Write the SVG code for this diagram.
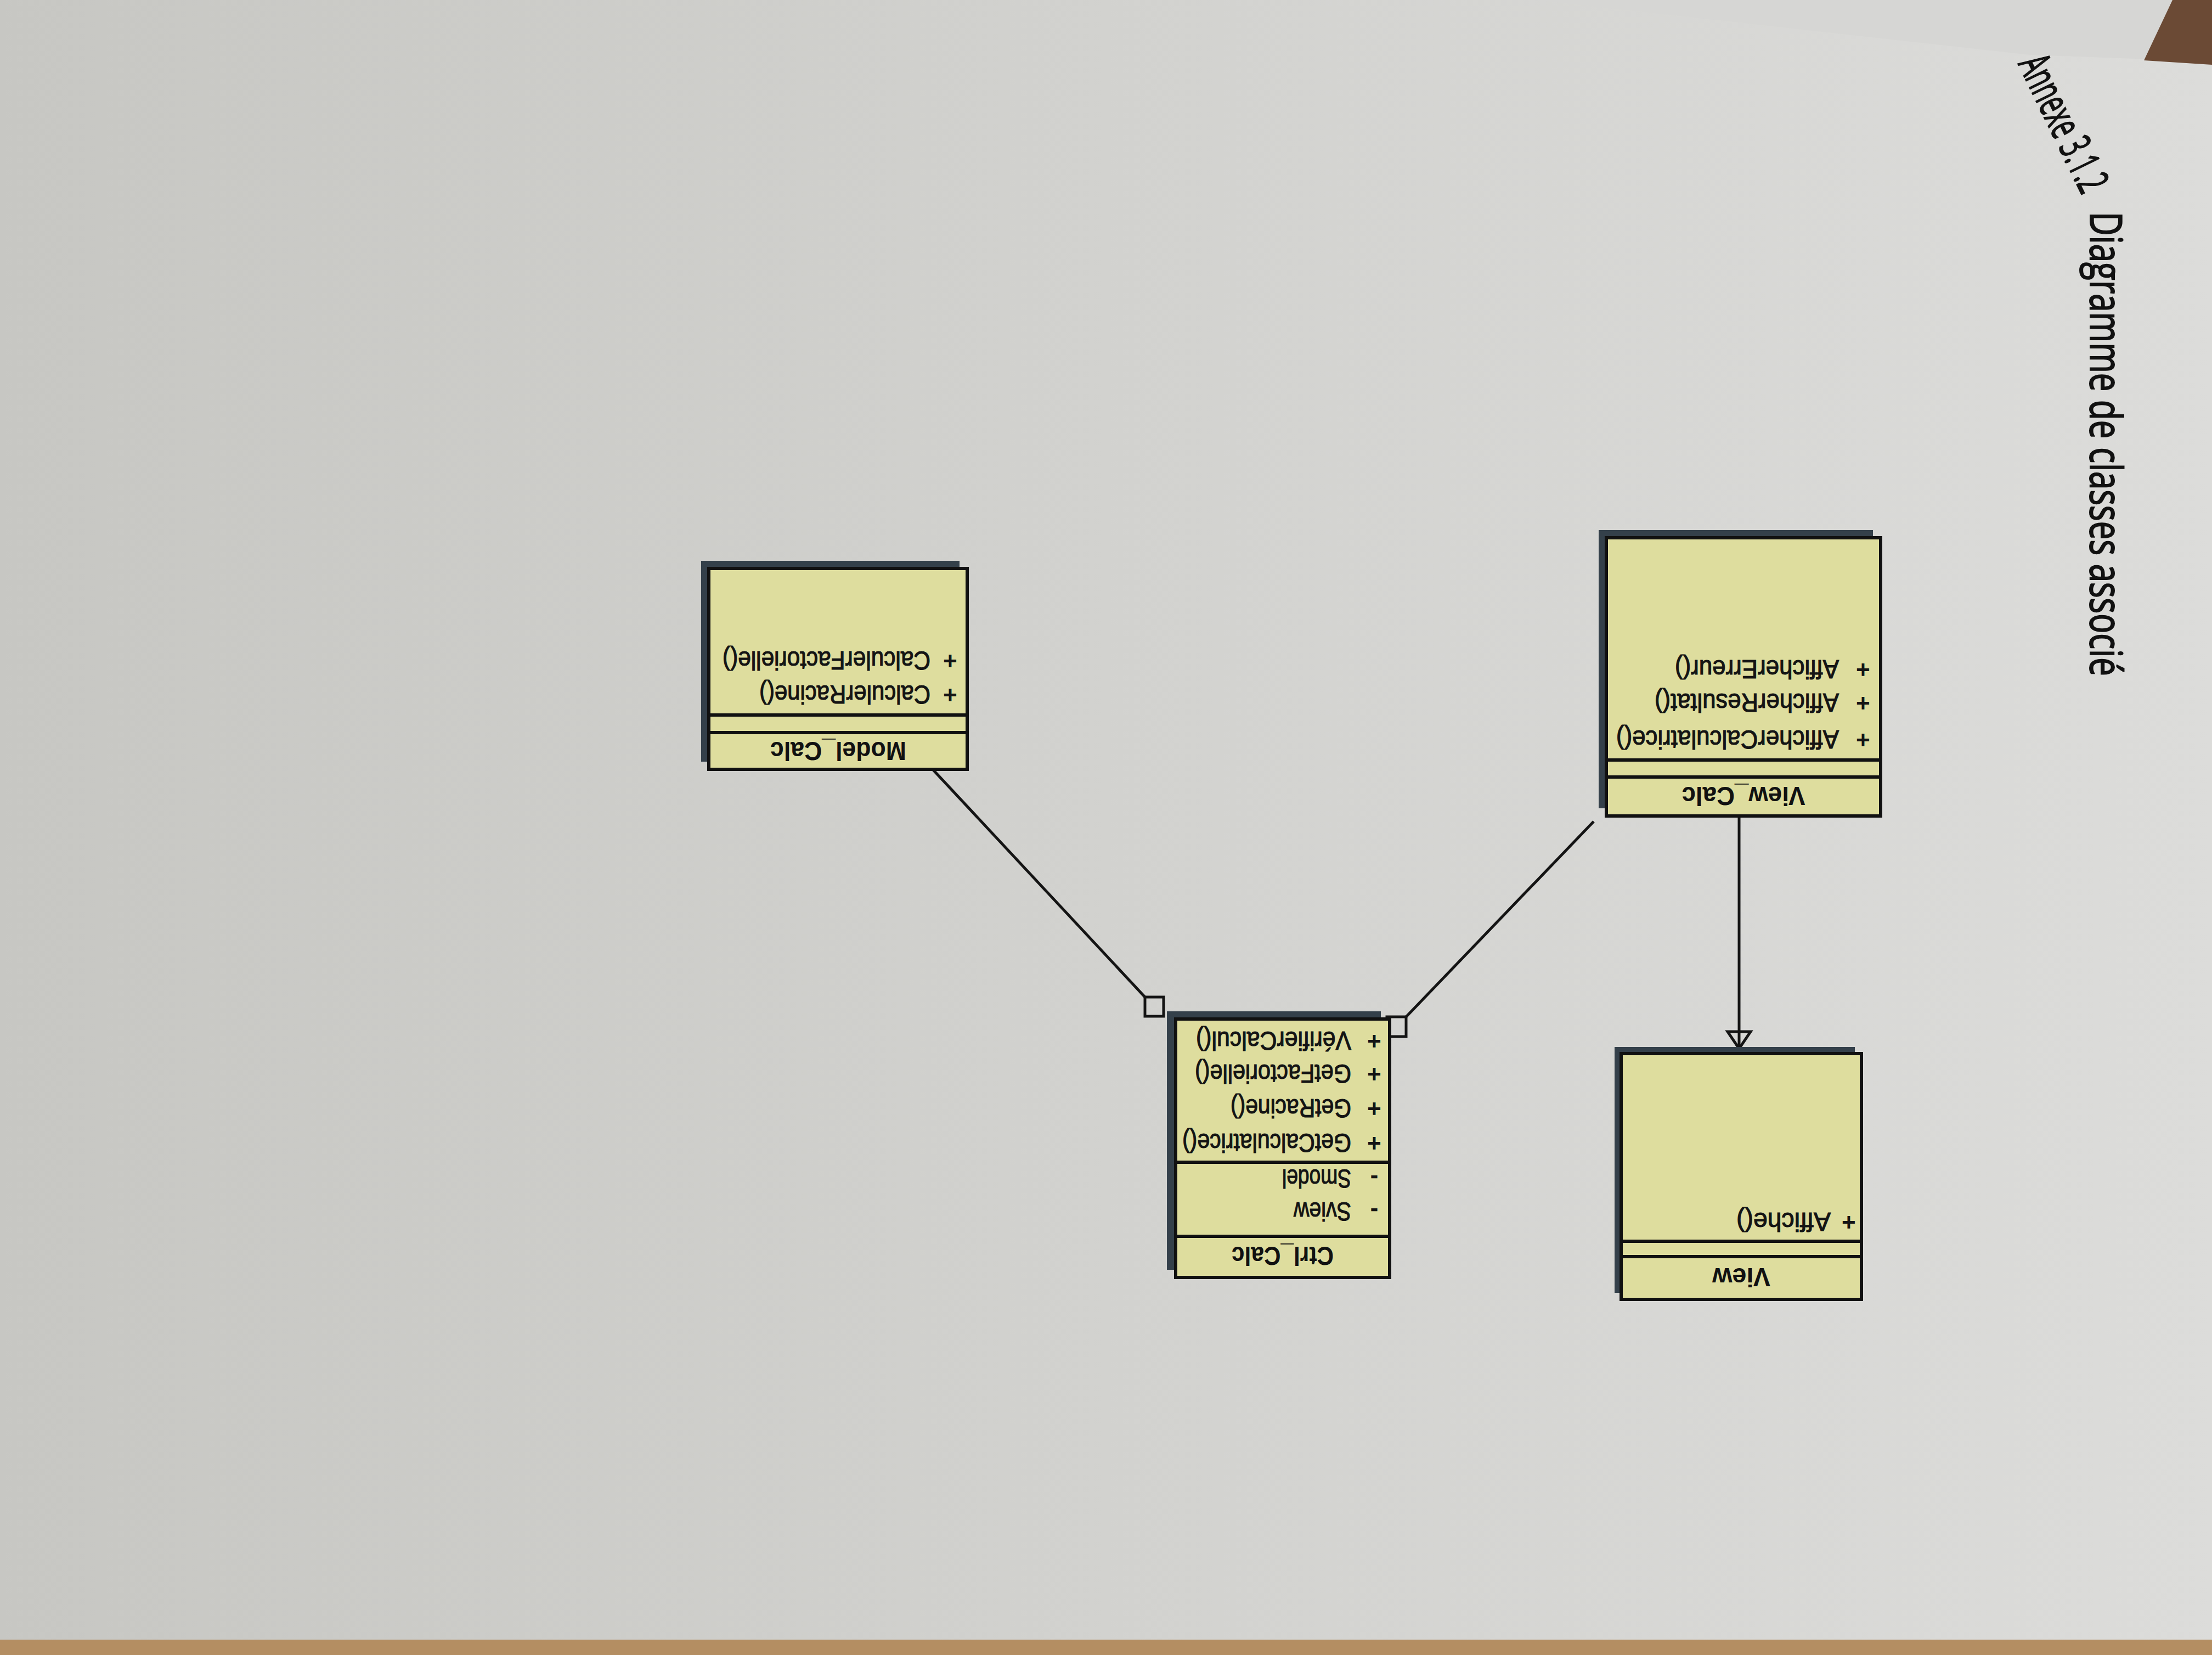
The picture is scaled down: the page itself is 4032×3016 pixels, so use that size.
<svg xmlns="http://www.w3.org/2000/svg" width="4032" height="3016" viewBox="0 0 4032 3016">
<defs>
<linearGradient id="paper" x1="0" y1="0" x2="1" y2="0">
<stop offset="0" stop-color="#c7c7c3"/>
<stop offset="0.5" stop-color="#d2d2cf"/>
<stop offset="1" stop-color="#dcdcda"/>
</linearGradient>
<style>
.shadow{fill:#34404a}
.box{fill:#dedd9e;stroke:#111;stroke-width:6}
.sep{stroke:#111;stroke-width:6}
.name{font-family:"Liberation Sans",Arial,sans-serif;font-weight:bold;font-size:48px;fill:#111;text-anchor:middle}
.mem{font-family:"Liberation Sans",Arial,sans-serif;font-size:48px;fill:#141414;stroke:#141414;stroke-width:1.2}
.vis{font-family:"Liberation Sans",Arial,sans-serif;font-size:44px;font-weight:bold;fill:#141414;text-anchor:middle}
.conn{stroke:#141414;stroke-width:5;fill:none}
.head{font-family:"Open Sans","Liberation Sans",sans-serif;font-size:80px;fill:#111;stroke:#111;stroke-width:2}
</style>
</defs>
<rect x="0" y="0" width="4032" height="3016" fill="url(#paper)"/>
<polygon points="2800,0 4032,0 4032,112 3700,100" fill="#d6d6d4"/>
<polygon points="3960,0 4032,0 4032,118 3908,110" fill="#6b4a35"/>
<rect x="0" y="2988" width="4032" height="28" fill="#b48e62"/>

<g id="heading">
<text class="head" transform="translate(3678,116) rotate(64)" textLength="268" lengthAdjust="spacingAndGlyphs">Annexe 3.1.2</text>
<text class="head" transform="translate(3810,386) rotate(90)" textLength="846" lengthAdjust="spacingAndGlyphs">Diagramme de classes associé</text>
</g>

<g id="connectors">
<line class="conn" x1="3170" y1="1487" x2="3170" y2="1911"/>
<polygon class="conn" points="3149,1880 3191,1880 3170,1911"/>
<line class="conn" x1="1700" y1="1402" x2="2087" y2="1817"/>
<rect class="conn" x="2087" y="1817" width="34" height="35"/>
<line class="conn" x1="2905" y1="1497" x2="2563" y2="1853"/>
<rect class="conn" x="2528" y="1853" width="35" height="36"/>
</g>

<g id="View_Calc" transform="translate(3428,1487) rotate(180)">
<rect class="shadow" x="14" y="14" width="500" height="507"/>
<rect class="box" x="0" y="0" width="500" height="507"/>
<line class="sep" x1="0" y1="71" x2="500" y2="71"/>
<line class="sep" x1="0" y1="102" x2="500" y2="102"/>
<text class="name" x="250" y="53" textLength="225" lengthAdjust="spacingAndGlyphs">View_Calc</text>
<text class="vis" x="32" y="154">+</text>
<text class="mem" x="76" y="156" textLength="406" lengthAdjust="spacingAndGlyphs">AfficherCalculatrice()</text>
<text class="vis" x="32" y="221">+</text>
<text class="mem" x="76" y="223" textLength="336" lengthAdjust="spacingAndGlyphs">AfficherResultat()</text>
<text class="vis" x="32" y="282">+</text>
<text class="mem" x="76" y="284" textLength="299" lengthAdjust="spacingAndGlyphs">AfficherErreur()</text>
</g>

<g id="View" transform="translate(3393,2368) rotate(180)">
<rect class="shadow" x="12" y="12" width="438" height="448"/>
<rect class="box" x="0" y="0" width="438" height="448"/>
<line class="sep" x1="0" y1="78" x2="438" y2="78"/>
<line class="sep" x1="0" y1="106" x2="438" y2="106"/>
<text class="name" x="219" y="57" textLength="106" lengthAdjust="spacingAndGlyphs">View</text>
<text class="vis" x="23" y="156">+</text>
<text class="mem" x="56" y="158" textLength="172" lengthAdjust="spacingAndGlyphs">Affiche()</text>
</g>

<g id="Ctrl_Calc" transform="translate(2533,2328) rotate(180)">
<rect class="shadow" x="16" y="14" width="390" height="471"/>
<rect class="box" x="0" y="0" width="390" height="471"/>
<line class="sep" x1="0" y1="75" x2="390" y2="75"/>
<line class="sep" x1="0" y1="210" x2="390" y2="210"/>
<text class="name" x="195" y="56" textLength="186" lengthAdjust="spacingAndGlyphs">Ctrl_Calc</text>
<text class="vis" x="28" y="135">-</text>
<text class="mem" x="70" y="137" textLength="105" lengthAdjust="spacingAndGlyphs">Sview</text>
<text class="vis" x="28" y="195">-</text>
<text class="mem" x="70" y="197" textLength="126" lengthAdjust="spacingAndGlyphs">Smodel</text>
<text class="vis" x="28" y="260">+</text>
<text class="mem" x="70" y="262" textLength="308" lengthAdjust="spacingAndGlyphs">GetCalculatrice()</text>
<text class="vis" x="28" y="323">+</text>
<text class="mem" x="70" y="325" textLength="220" lengthAdjust="spacingAndGlyphs">GetRacine()</text>
<text class="vis" x="28" y="386">+</text>
<text class="mem" x="70" y="388" textLength="285" lengthAdjust="spacingAndGlyphs">GetFactorielle()</text>
<text class="vis" x="28" y="446">+</text>
<text class="mem" x="70" y="448" textLength="283" lengthAdjust="spacingAndGlyphs">VérifierCalcul()</text>
</g>

<g id="Model_Calc" transform="translate(1763,1402) rotate(180)">
<rect class="shadow" x="14" y="14" width="471" height="366"/>
<rect class="box" x="0" y="0" width="471" height="366"/>
<line class="sep" x1="0" y1="67" x2="471" y2="67"/>
<line class="sep" x1="0" y1="99" x2="471" y2="99"/>
<text class="name" x="235" y="50" textLength="248" lengthAdjust="spacingAndGlyphs">Model_Calc</text>
<text class="vis" x="31" y="151">+</text>
<text class="mem" x="67" y="153" textLength="312" lengthAdjust="spacingAndGlyphs">CalculerRacine()</text>
<text class="vis" x="31" y="213">+</text>
<text class="mem" x="67" y="215" textLength="379" lengthAdjust="spacingAndGlyphs">CalculerFactorielle()</text>
</g>
</svg>
